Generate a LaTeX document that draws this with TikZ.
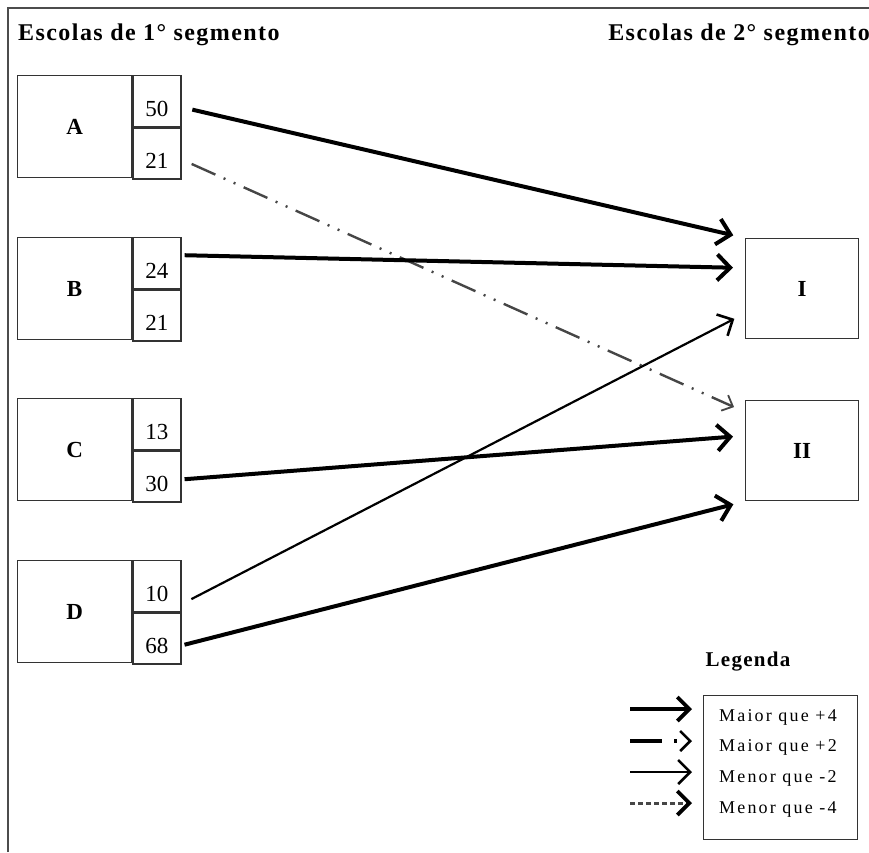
\documentclass[tikz,border=0pt]{standalone}
\usepackage{fontspec}
\setmainfont{Liberation Serif}
\newfontfamily\widefont[LetterSpace=6]{Liberation Serif}
\newfontfamily\legfont[LetterSpace=12]{Liberation Serif}
\usetikzlibrary{positioning}
\usetikzlibrary{arrows.meta}

\tikzset{
	cellbox/.style={draw=black!80,line width=1.3pt,minimum width=114pt,minimum height=102pt,inner sep=0pt,font=\fontsize{23}{26}\selectfont\bfseries},
	numbox/.style={draw=black!80,line width=1.3pt,minimum width=48pt,minimum height=51pt,inner sep=0pt,text height=30pt,text depth=0pt,font=\fontsize{23}{26}\selectfont},
	segbox/.style={draw=black!80,line width=1.3pt,minimum width=113pt,minimum height=100pt,inner sep=0pt,font=\fontsize{23}{26}\selectfont\bfseries},
	bigflow/.style={line width=4pt,-{Straight Barb[length=13pt,width=26pt,line width=4pt]}},
	thinflow/.style={line width=2.2pt,-{Straight Barb[length=12pt,width=24pt,line width=2.6pt]}},
	dotflow/.style={gray!55!black,line width=2.4pt,dash pattern=on 26pt off 9pt on 2pt off 9pt on 2pt off 9pt,-{Straight Barb[length=9pt,width=17pt,line width=1.8pt]}},
	legtext/.style={anchor=west,inner sep=0pt,font=\legfont\fontsize{18}{20}\selectfont},
}

\begin{document}
\begin{tikzpicture}[x=1pt,y=-1pt]
	\useasboundingbox (0,0) rectangle (869,852);
	\draw[black!70,line width=1.5pt] (8,852) -- (8,8) -- (869,8);
	\node[anchor=west,inner sep=0pt,font=\widefont\fontsize{24}{26}\selectfont\bfseries] (seg1) at (18,35) {Escolas de 1° segmento};
	\node[anchor=east,inner sep=0pt,font=\widefont\fontsize{24}{26}\selectfont\bfseries] (seg2) at (870,35) {Escolas de 2° segmento};

	% escolas de 1o segmento
	\node[cellbox,anchor=north west] (a) at (17,75) {A};
	\node[numbox,anchor=north west] (a50) at (a.north east) {50};
	\node[numbox,anchor=north west] (a21) at (a50.south west) {21};
	\node[cellbox,anchor=north west] (b) at (17,237) {B};
	\node[numbox,anchor=north west] (b24) at (b.north east) {24};
	\node[numbox,anchor=north west] (b21) at (b24.south west) {21};
	\node[cellbox,anchor=north west] (c) at (17,398) {C};
	\node[numbox,anchor=north west] (c13) at (c.north east) {13};
	\node[numbox,anchor=north west] (c30) at (c13.south west) {30};
	\node[cellbox,anchor=north west] (d) at (17,560) {D};
	\node[numbox,anchor=north west] (d10) at (d.north east) {10};
	\node[numbox,anchor=north west] (d68) at (d10.south west) {68};

	% escolas de 2o segmento
	\node[segbox,anchor=north west] (I) at (745,238) {I};
	\node[segbox,anchor=north west] (II) at (745,400) {II};

	% fluxos
	\draw[bigflow,shorten <=11pt,shorten >=12pt] ([yshift=-6pt]a50.east) -- (I.north west);
	\draw[dotflow,shorten <=11pt,shorten >=12pt] ([yshift=-6pt]a21.east) -- ([yshift=-12pt]II.north west);
	\draw[bigflow,shorten <=3pt,shorten >=12pt] ([yshift=8pt]b24.east) -- ([yshift=-30pt]I.north west);
	\draw[bigflow,shorten <=3pt,shorten >=12pt] ([yshift=-3pt]c30.east) -- ([yshift=15pt]II.west);
	\draw[thinflow,shorten <=11pt,shorten >=12pt] ([yshift=-18pt]d10.east) -- ([yshift=26pt]I.south west);
	\draw[bigflow,shorten <=3pt,shorten >=12pt] ([yshift=-7pt]d68.east) -- (II.south west);

	% legenda
	\node[anchor=south,inner sep=0pt,font=\widefont\fontsize{21}{23}\selectfont\bfseries] (leg) at (748,671) {Legenda};
	\node[draw=black!80,line width=1.3pt,minimum width=154pt,minimum height=144pt,anchor=north west] (legbox) at (703,695) {};
	\node[legtext] (k1) at (719,717) {Maior que +4};
	\node[legtext] (k2) at (719,747) {Maior que +2};
	\node[legtext] (k3) at (719,778) {Menor que -2};
	\node[legtext] (k4) at (719,809) {Menor que -4};
	\coordinate[left=89pt of k1.west] (p1);
	\coordinate[left=89pt of k2.west] (p2);
	\coordinate[left=89pt of k3.west] (p3);
	\coordinate[left=89pt of k4.west] (p4);
	\draw[line width=3.6pt,shorten >=27pt,-{Straight Barb[length=12pt,width=24pt,line width=3.8pt]}] ([yshift=8pt]p1) -- ([yshift=8pt]k1.west);
	\draw[line width=3.6pt,shorten >=27pt,dash pattern=on 32pt off 12pt on 3pt off 20pt,-{Straight Barb[length=10pt,width=20pt,line width=2.6pt]}] ([yshift=6pt]p2) -- ([yshift=6pt]k2.west);
	\draw[line width=2.2pt,shorten >=27pt,-{Straight Barb[length=12pt,width=24pt,line width=2.6pt]}] ([yshift=6pt]p3) -- ([yshift=6pt]k3.west);
	\draw[gray!55!black,line width=3pt,shorten >=27pt,dash pattern=on 5pt off 3pt,-{Straight Barb[length=12pt,width=24pt,line width=3.8pt,color=black]}] ([yshift=6pt]p4) -- ([yshift=6pt]k4.west);
\end{tikzpicture}
\end{document}
